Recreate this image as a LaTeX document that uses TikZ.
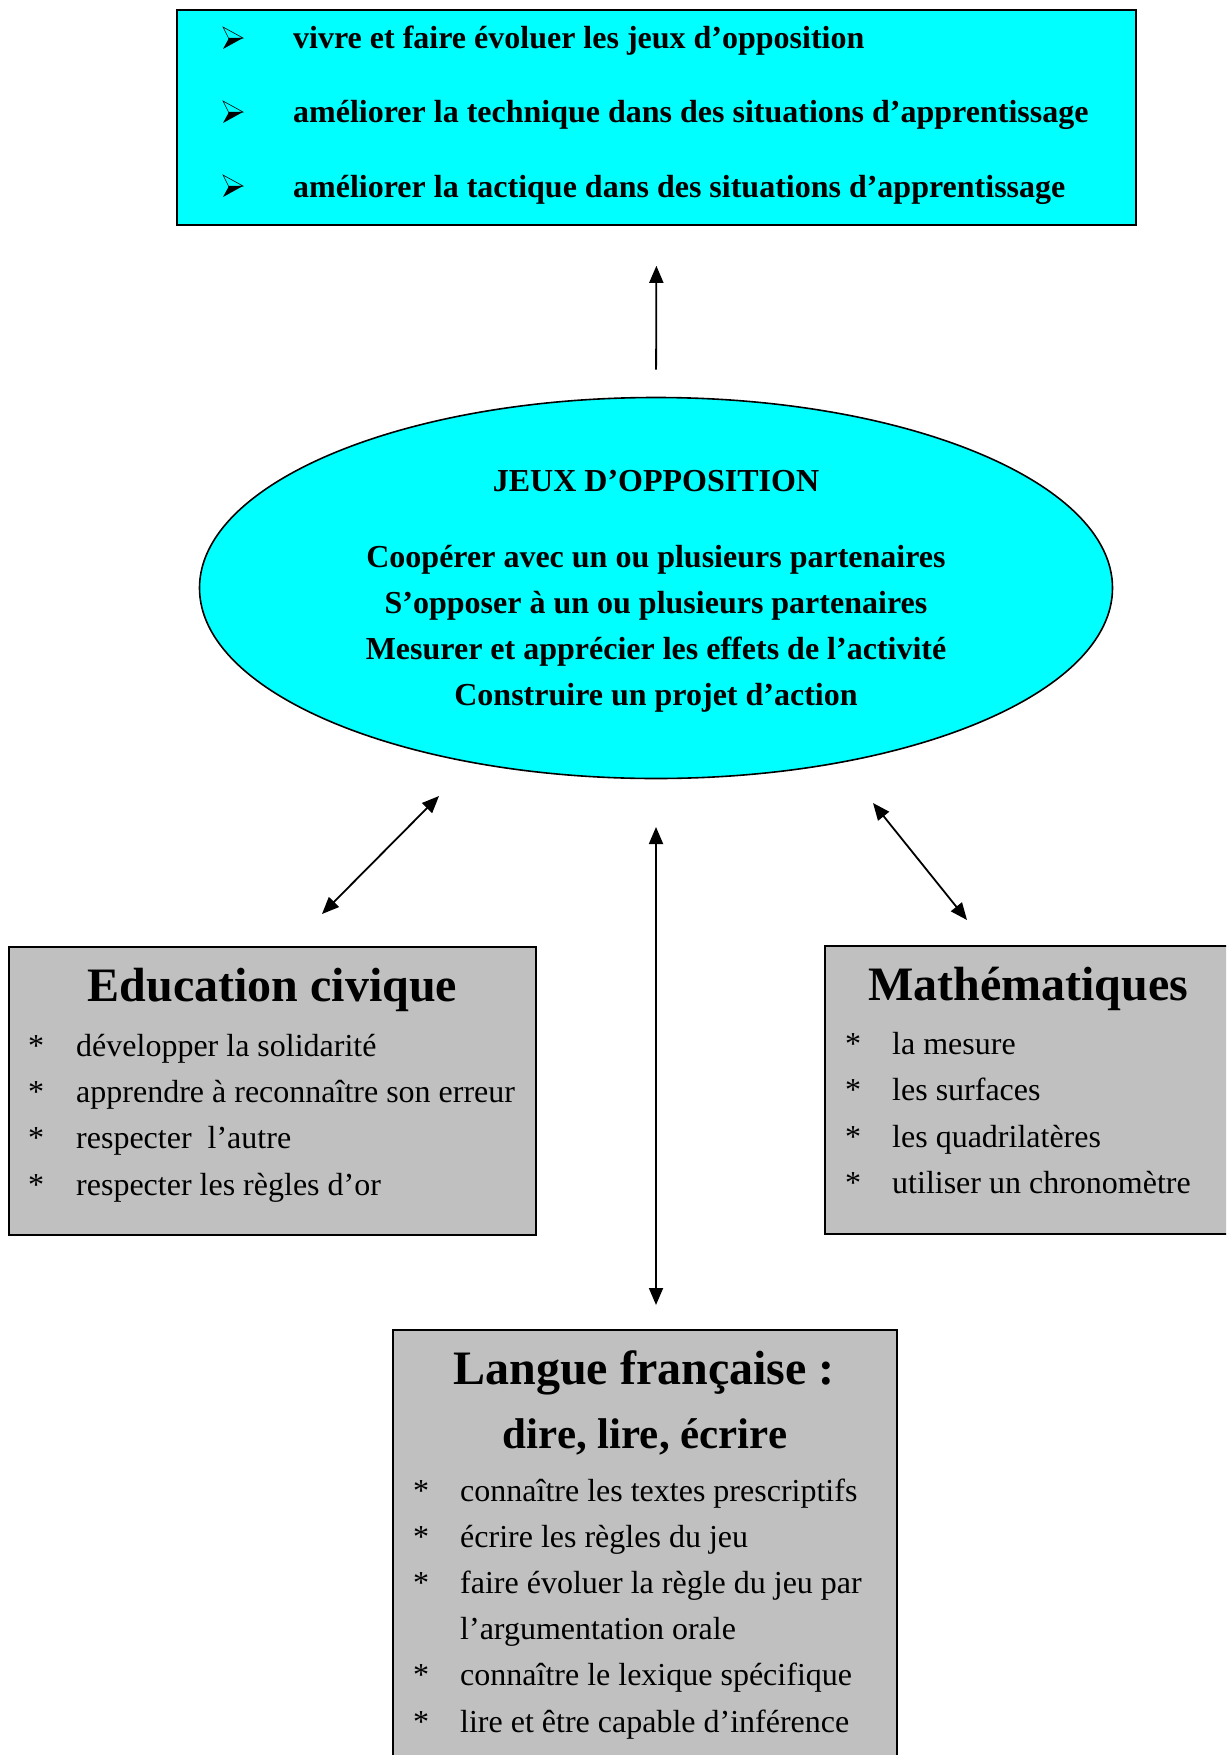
\documentclass[tikz,border=0pt]{standalone}
\usepackage{fontspec}
\setmainfont{Liberation Serif}
\usetikzlibrary{shapes.geometric,arrows.meta}
\definecolor{boxcyan}{RGB}{0,255,255}
\definecolor{boxgray}{RGB}{192,192,192}
\begin{document}
\begin{tikzpicture}[x=1pt,y=-1pt,
  panel/.style={draw=black,line width=1.6pt,inner sep=0pt},
  itemtext/.style={font=\fontsize{32}{38}\selectfont,anchor=base west,inner sep=0pt},
  boldline/.style={font=\fontsize{32}{38}\selectfont\bfseries,inner sep=0pt},
  bigtitle/.style={font=\fontsize{48}{56}\selectfont\bfseries,anchor=base,inner sep=0pt},
  conn/.style={line width=1.8pt,{Triangle[length=17pt,width=14pt]}-{Triangle[length=17pt,width=14pt]}},
  oneway/.style={line width=1.8pt,-{Triangle[length=17pt,width=14pt]}},
]
\useasboundingbox (0,0) rectangle (1226,1755);
\clip (0,0) rectangle (1226,1755);
\fill[white] (0,0) rectangle (1226,1755);

% top box
\node[panel,fill=boxcyan,minimum width=959pt,minimum height=215pt] (top) at (656.5,117.5) {};
\foreach \yc in {38,112,186}{
  \filldraw[line width=0.6pt,fill=boxcyan] (223,\yc-11) -- (243,\yc) -- (229,\yc+1) -- cycle;
  \fill[black] (229,\yc) -- (243,\yc) -- (223,\yc+11) -- cycle;
}
\node[boldline,anchor=base west] (t1) at (293,49) {vivre et faire évoluer les jeux d’opposition};
\node[boldline,anchor=base west] (t2) at (293,123) {améliorer la technique dans des situations d’apprentissage};
\node[boldline,anchor=base west] (t3) at (293,197) {améliorer la tactique dans des situations d’apprentissage};

% ellipse
\node[panel,ellipse,fill=boxcyan,minimum width=913pt,minimum height=381pt] (ell) at (656,588) {};
\node[boldline,anchor=base] (e0) at (656,491) {JEUX D’OPPOSITION};
\node[boldline,anchor=base] (e1) at (656,567) {Coopérer avec un ou plusieurs partenaires};
\node[boldline,anchor=base] (e2) at (656,613) {S’opposer à un ou plusieurs partenaires};
\node[boldline,anchor=base] (e3) at (656,659) {Mesurer et apprécier les effets de l’activité};
\node[boldline,anchor=base] (e4) at (656,705) {Construire un projet d’action};

\draw[oneway,shorten <=27pt,shorten >=40pt] (ell.north) -- (top.south);

% education civique
\node[panel,fill=boxgray,minimum width=527pt,minimum height=288pt] (edu) at (272.5,1091) {};
\node[bigtitle] (edut) at (272.5,1001) {Education civique};
\node[itemtext] (ea1) at (28,1056) {*};
\node[itemtext] (ea2) at (28,1102) {*};
\node[itemtext] (ea3) at (28,1148) {*};
\node[itemtext] (ea4) at (28,1195) {*};
\node[itemtext] (ei1) at (76,1056) {développer la solidarité};
\node[itemtext] (ei2) at (76,1102) {apprendre à reconnaître son erreur};
\node[itemtext] (ei3) at (76,1148) {respecter\ \ l’autre};
\node[itemtext] (ei4) at (76,1195) {respecter les règles d’or};

% mathematiques
\node[panel,fill=boxgray,minimum width=415pt,minimum height=288pt] (math) at (1032.5,1090) {};
\node[bigtitle] (matht) at (1028,1000) {Mathématiques};
\node[itemtext] (ma1) at (845,1054) {*};
\node[itemtext] (ma2) at (845,1100) {*};
\node[itemtext] (ma3) at (845,1147) {*};
\node[itemtext] (ma4) at (845,1193) {*};
\node[itemtext] (mi1) at (892,1054) {la mesure};
\node[itemtext] (mi2) at (892,1100) {les surfaces};
\node[itemtext] (mi3) at (892,1147) {les quadrilatères};
\node[itemtext] (mi4) at (892,1193) {utiliser un chronomètre};

% langue francaise
\node[panel,fill=boxgray,minimum width=504pt,minimum height=450pt] (lang) at (645,1555) {};
\node[bigtitle] (langt) at (644,1384) {Langue française :};
\node[font=\fontsize{43}{50}\selectfont\bfseries,anchor=base,inner sep=0pt] (langs) at (645,1448) {dire, lire, écrire};
\node[itemtext] (la1) at (413,1501) {*};
\node[itemtext] (la2) at (413,1547) {*};
\node[itemtext] (la3) at (413,1593) {*};
\node[itemtext] (la5) at (413,1685) {*};
\node[itemtext] (la6) at (413,1732) {*};
\node[itemtext] (li1) at (460,1501) {connaître les textes prescriptifs};
\node[itemtext] (li2) at (460,1547) {écrire les règles du jeu};
\node[itemtext] (li3) at (460,1593) {faire évoluer la règle du jeu par};
\node[itemtext] (li4) at (460,1639) {l’argumentation orale};
\node[itemtext] (li5) at (460,1685) {connaître le lexique spécifique};
\node[itemtext] (li6) at (460,1732) {lire et être capable d’inférence};

% connectors
\coordinate (l1) at (439,796);
\coordinate (l2) at (322,914);
\draw[conn] (l1) -- (l2);
\coordinate (c1) at (656,827);
\coordinate (c2) at (656,1305);
\draw[conn] (c1) -- (c2);
\coordinate (r1) at (873,803);
\coordinate (r2) at (967,920);
\draw[conn] (r1) -- (r2);
\end{tikzpicture}
\end{document}
